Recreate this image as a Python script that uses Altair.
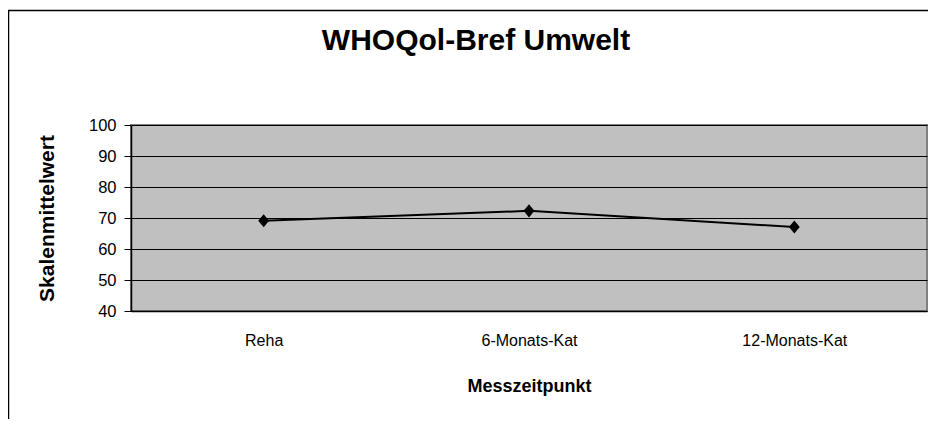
import altair as alt
import pandas as pd

categories = ["Reha", "6-Monats-Kat", "12-Monats-Kat"]
values = [69.1, 72.3, 67.1]
y_ticks = [40, 50, 60, 70, 80, 90, 100]

df = pd.DataFrame({"Messzeitpunkt": categories, "Wert": values})
FONT = "Liberation Sans"

x_enc = alt.X(
    "Messzeitpunkt:N",
    sort=categories,
    scale=alt.Scale(type="point", padding=0.5),
    axis=alt.Axis(
        title="Messzeitpunkt", titleFontSize=18, titleFont=FONT, titleFontWeight="bold",
        titleColor="black", titlePadding=29,
        labelAngle=0, labelFontSize=16, labelFont=FONT, labelColor="black", labelPadding=21,
        ticks=False, domainColor="black", domainWidth=1.5, grid=False,
    ),
)
y_enc = alt.Y(
    "Wert:Q",
    scale=alt.Scale(domain=[40, 100], nice=False, zero=False),
    axis=alt.Axis(
        title="Skalenmittelwert", titleFontSize=21, titleFont=FONT, titleFontWeight="bold",
        titleColor="black", titleAngle=270, titleX=-84, titleY=93, titleAlign="center",
        titleBaseline="middle",
        values=y_ticks, labelFontSize=16.5, labelFont=FONT, labelColor="black", labelPadding=8,
        tickSize=7, tickColor="black", domainColor="black", domainWidth=1.5,
        grid=True, gridColor="black", gridWidth=1, gridOpacity=1,
    ),
)

base = alt.Chart(df)
line = base.mark_line(color="black", strokeWidth=2).encode(x=x_enc, y=y_enc)
pts = base.mark_point(
    shape="M0,-1.15L0.95,0L0,1.15L-0.95,0Z", filled=True, color="black", opacity=1, size=130
).encode(x=x_enc, y=y_enc)

frame = alt.Chart(pd.DataFrame({"a": [0]})).mark_rect(
    fillOpacity=0, stroke="black", strokeWidth=1.5
).encode(
    x=alt.value(-122.5), x2=alt.value(900), y=alt.value(-114.5), y2=alt.value(400)
)

chart = alt.layer(frame, line, pts).properties(
    width=796,
    height=186,
    background="white",
    autosize=alt.AutoSizeParams(type="none"),
    padding={"left": 123, "top": 117, "right": 1, "bottom": 108},
    title=alt.TitleParams(
        "WHOQol-Bref Umwelt", fontSize=30, font=FONT, fontWeight="bold", color="black",
        anchor="middle", frame="group", baseline="alphabetic", offset=0, dy=70, dx=-53,
    ),
).configure_view(
    fill="#C0C0C0", stroke="#808080", strokeWidth=2
)

chart.save("out.html", embed_options={"renderer": "svg", "actions": False})
